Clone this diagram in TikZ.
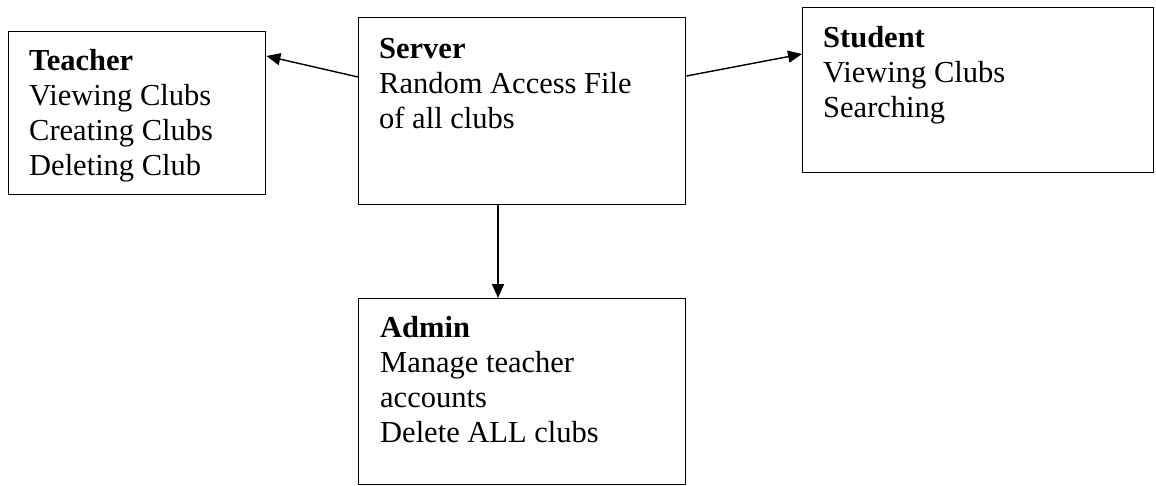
\documentclass[tikz,border=0pt]{standalone}
\usepackage{fontspec}
\setmainfont{Liberation Serif}
\usetikzlibrary{arrows.meta}
\begin{document}
\begin{tikzpicture}[x=1pt,y=-1pt,
  box/.style={draw, line width=1.4pt, rectangle, inner sep=0pt, anchor=north west},
  txt/.style={anchor=base west, inner sep=0pt, align=left, font=\fontsize{30.5}{35}\selectfont},
  conn/.style={line width=1.4pt, -{Triangle[length=14pt,width=12pt]}}]
\useasboundingbox (0,0) rectangle (1156,485);
% boxes
\node[box, minimum width=257pt, minimum height=163pt] (teacher) at (8,31) {};
\node[box, minimum width=327pt, minimum height=187pt] (server) at (358,17) {};
\node[box, minimum width=351pt, minimum height=165pt] (student) at (802,7) {};
\node[box, minimum width=327pt, minimum height=185.5pt] (admin) at (358,298) {};
% texts (base = baseline of the last line)
\node[txt] (tt) at (29,175) {\textbf{Teacher}\\Viewing Clubs\\Creating Clubs\\Deleting Club};
\node[txt] (st) at (379,128) {\textbf{Server}\\Random Access File\\of all clubs};
\node[txt] (ut) at (823,117) {\textbf{Student}\\Viewing Clubs\\Searching};
\node[txt] (at) at (380,442) {\textbf{Admin}\\Manage teacher\\accounts\\Delete ALL clubs};
% connector end points
\coordinate (sL) at (server.west |- 0,77);
\coordinate (tR) at (teacher.east |- 0,56);
\coordinate (sR) at (server.east |- 0,76);
\coordinate (uL) at (student.west |- 0,54);
\coordinate (sB) at (498,204);
\coordinate (aT) at (498,298);
\draw[conn] (sL) -- (tR);
\draw[conn] (sR) -- (uL);
\draw[conn] (sB) -- (aT);
\end{tikzpicture}
\end{document}
